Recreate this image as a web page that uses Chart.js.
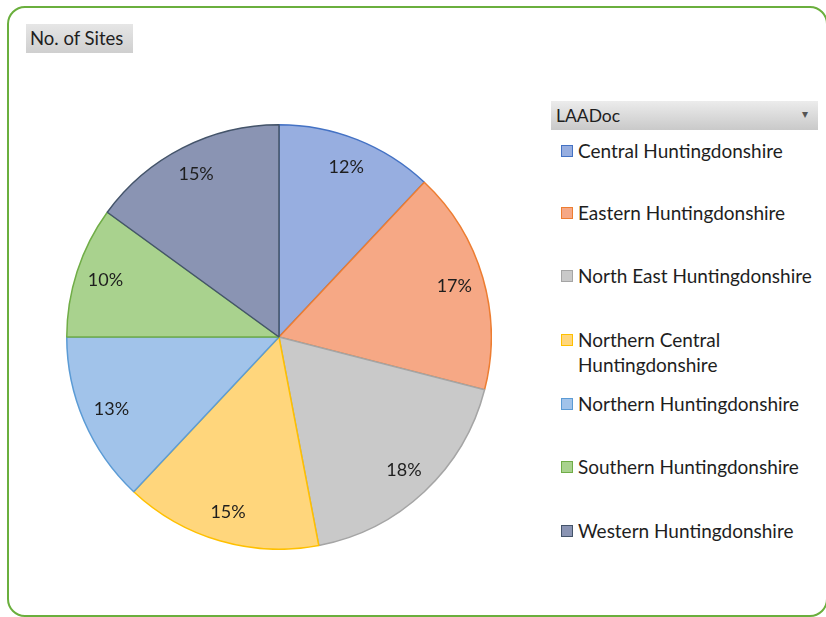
<!DOCTYPE html>
<html lang="en">

<head>
    <meta charset="UTF-8">
    <title>No. of Sites by LAADoc</title>
    <script src="https://cdn.jsdelivr.net/npm/chart.js"></script>
    <style>
        body {
            margin: 0;
            background: #fff;
            font-family: Lato, "Open Sans", sans-serif;
            color: #1e1e1e;
        }

        .frame {
            position: relative;
            width: 826px;
            height: 617px;
            overflow: hidden;
        }

        .border {
            position: absolute;
            left: 7px;
            top: 6px;
            width: 817px;
            height: 607px;
            border: 2px solid #6aaf3d;
            border-radius: 18px;
        }

        .field-button {
            position: absolute;
            left: 26px;
            top: 24px;
            width: 107px;
            height: 29px;
            background: linear-gradient(#e6e6e6, #cfcfcf);
            font-size: 18.5px;
            line-height: 29px;
            padding-left: 4px;
            box-sizing: border-box;
        }

        .chart-box {
            position: absolute;
            left: 66px;
            top: 124px;
            width: 426px;
            height: 426px;
        }

        .legend-head {
            position: absolute;
            left: 551px;
            top: 101px;
            width: 267px;
            height: 29px;
            background: linear-gradient(#ececec, #c9c9c9);
            font-size: 17.5px;
            line-height: 29px;
            padding-left: 5px;
            box-sizing: border-box;
        }

        .legend-head span {
            position: absolute;
            right: 10px;
            top: -2px;
            font-size: 12px;
            color: #555;
        }

        .legend-item {
            position: absolute;
            left: 561px;
            font-size: 19px;
            line-height: 25px;
            padding-left: 17px;
        }

        .legend-item i {
            position: absolute;
            left: 0;
            top: 7px;
            width: 10px;
            height: 10px;
            border: 1px solid;
        }
    </style>
</head>

<body>
    <div class="frame">
        <div class="border"></div>
        <div class="field-button">No. of Sites</div>
        <div class="chart-box"><canvas id="sitesChart" width="426" height="426"></canvas></div>
        <div class="legend-head">LAADoc<span>&#9662;</span></div>
        <div id="legend"></div>
    </div>

    <script>
        const areas = [
            'Central Huntingdonshire',
            'Eastern Huntingdonshire',
            'North East Huntingdonshire',
            ['Northern Central', 'Huntingdonshire'],
            'Northern Huntingdonshire',
            'Southern Huntingdonshire',
            'Western Huntingdonshire'
        ];
        const siteShares = [12, 17, 18, 15, 13, 10, 15];

        const fillColours = ['#97aee0', '#f6a885', '#c9c9c9', '#ffd67c', '#a1c3ea', '#a9d28e', '#8a94b3'];
        const edgeColours = ['#4472c4', '#ed7d31', '#a5a5a5', '#ffc000', '#5b9bd5', '#70ad47', '#44546a'];

        // percentage text inside each slice, near the rim
        const sliceLabels = {
            id: 'sliceLabels',
            afterDatasetsDraw(chart) {
                const ctx = chart.ctx;
                const values = chart.data.datasets[0].data;
                const total = values.reduce((a, b) => a + b, 0);
                ctx.save();
                ctx.font = '18px Lato, "Open Sans", sans-serif';
                ctx.fillStyle = '#1e1e1e';
                ctx.textAlign = 'center';
                ctx.textBaseline = 'middle';
                chart.getDatasetMeta(0).data.forEach((arc, i) => {
                    const p = arc.getProps(['x', 'y', 'startAngle', 'endAngle', 'outerRadius'], true);
                    const mid = (p.startAngle + p.endAngle) / 2;
                    const r = p.outerRadius * 0.86;
                    const pct = Math.round(values[i] / total * 100) + '%';
                    ctx.fillText(pct, p.x + Math.cos(mid) * r, p.y + Math.sin(mid) * r);
                });
                ctx.restore();
            }
        };

        new Chart(document.getElementById('sitesChart'), {
            type: 'pie',
            data: {
                labels: areas,
                datasets: [{
                    data: siteShares,
                    backgroundColor: fillColours,
                    borderColor: edgeColours,
                    borderWidth: 1.5
                }]
            },
            options: {
                responsive: false,
                animation: false,
                plugins: {
                    legend: { display: false },
                    tooltip: { enabled: false }
                }
            },
            plugins: [sliceLabels]
        });

        // legend down the right side
        const legendTops = [138, 200, 263, 327, 391, 454, 518];
        const legend = document.getElementById('legend');
        areas.forEach((name, i) => {
            const item = document.createElement('div');
            item.className = 'legend-item';
            item.style.top = legendTops[i] + 'px';
            const box = document.createElement('i');
            box.style.background = fillColours[i];
            box.style.borderColor = edgeColours[i];
            item.appendChild(box);
            item.insertAdjacentHTML('beforeend', Array.isArray(name) ? name.join('<br>') : name);
            legend.appendChild(item);
        });
    </script>
</body>

</html>
